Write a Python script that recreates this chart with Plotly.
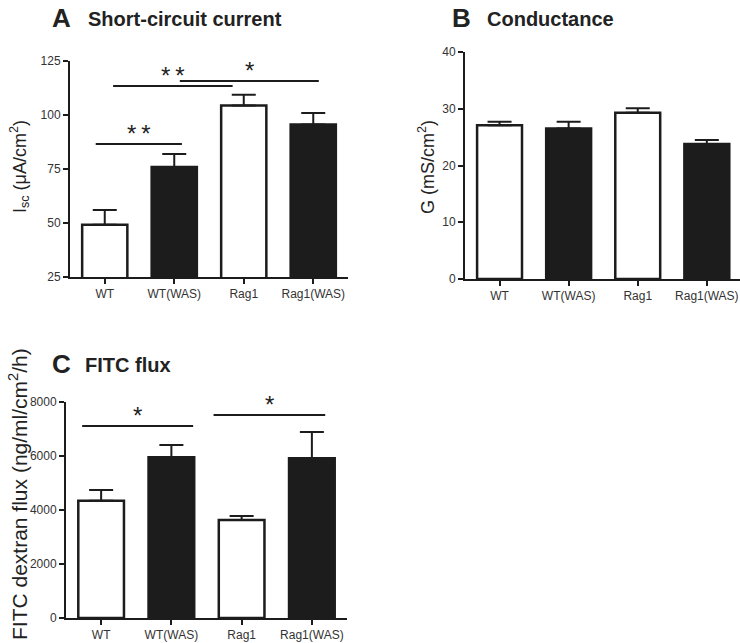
import plotly.graph_objects as go

# ---------------- data ----------------
categories = ["WT", "WT(WAS)", "Rag1", "Rag1(WAS)"]
bar_colors = ["white", "#1c1c1c", "white", "#1c1c1c"]

isc_mean = [49.2, 75.9, 104.4, 95.6]
isc_sem = [6.8, 6.1, 5.0, 5.3]

g_mean = [27.1, 26.5, 29.3, 23.8]
g_sem = [0.6, 1.2, 0.8, 0.7]

fitc_mean = [4340, 5950, 3630, 5920]
fitc_sem = [400, 460, 150, 970]

# significance brackets: (x start, x end, height, label)
sig_A = [(-0.13, 1.11, 86.6, "**"), (0.12, 1.84, 113.4, "**"), (1.08, 3.08, 115.7, "*")]
sig_C = [(-0.27, 1.31, 7111, "*"), (1.60, 3.19, 7518, "*")]

FONT = "Liberation Sans, Arial, sans-serif"
TXT = "#222222"

fig = go.Figure()

def add_bars(means, sems, xa, ya):
    fig.add_trace(go.Bar(
        x=list(range(len(categories))), y=means,
        xaxis=xa, yaxis=ya, width=0.65,
        marker=dict(color=bar_colors, line=dict(color="#1c1c1c", width=2.5)),
        error_y=dict(type="data", array=sems, arrayminus=[0] * len(sems),
                     symmetric=False, color="#1c1c1c", thickness=2, width=12),
        showlegend=False, hoverinfo="y",
    ))

add_bars(isc_mean, isc_sem, "x", "y")
add_bars(g_mean, g_sem, "x2", "y2")
add_bars(fitc_mean, fitc_sem, "x3", "y3")

axis_common = dict(showline=True, linecolor="#1c1c1c", linewidth=2, ticks="outside",
                   ticklen=5, tickwidth=2, tickcolor="#1c1c1c", showgrid=False,
                   zeroline=False, automargin=False,
                   tickfont=dict(family=FONT, size=12, color="#333333"))

def xax(domain, anchor, rng):
    return dict(domain=domain, anchor=anchor, range=rng, tickmode="array",
                tickvals=list(range(len(categories))), ticktext=categories, **axis_common)

def yax(domain, anchor, rng, dtick):
    return dict(domain=domain, anchor=anchor, range=rng, dtick=dtick, **axis_common)

fig.update_layout(
    width=740, height=643, autosize=False,
    margin=dict(l=0, r=0, t=0, b=0, pad=0),
    paper_bgcolor="white", plot_bgcolor="white",
    font=dict(family=FONT, color=TXT),
    xaxis=xax([70 / 740, 348 / 740], "y", [-0.5, 3.5]),
    yaxis=yax([1 - 277 / 643, 1 - 61 / 643], "x", [25, 125], 25),
    xaxis2=xax([465 / 740, 1.0], "y2", [-0.5, 3.48]),
    yaxis2=yax([1 - 279 / 643, 1 - 52 / 643], "x2", [0, 40], 10),
    xaxis3=xax([66 / 740, 347 / 740], "y3", [-0.5, 3.5]),
    yaxis3=yax([1 - 618 / 643, 1 - 402 / 643], "x3", [0, 8000], 2000),
)

shapes = []
annotations = []

def add_sig(sigs, xr, yr):
    for x0, x1, h, lab in sigs:
        shapes.append(dict(type="line", xref=xr, yref=yr, x0=x0, x1=x1, y0=h, y1=h,
                           line=dict(color="#1c1c1c", width=2)))
        annotations.append(dict(xref=xr, yref=yr, x=(x0 + x1) / 2, y=h,
                                text="\u2009".join(lab),
                                showarrow=False, yanchor="bottom", yshift=-5,
                                font=dict(family=FONT, size=24, color=TXT)))

add_sig(sig_A, "x", "y")
add_sig(sig_C, "x3", "y3")

def panel_title(letter, title, xl, xt, yc, size_l=26, size_t=20):
    annotations.append(dict(xref="paper", yref="paper", x=xl / 740, y=1 - yc / 643,
                            text="<b>" + letter + "</b>", showarrow=False,
                            xanchor="left", yanchor="middle",
                            font=dict(family=FONT, size=size_l, color=TXT)))
    annotations.append(dict(xref="paper", yref="paper", x=xt / 740, y=1 - (yc + 1) / 643,
                            text="<b>" + title + "</b>", showarrow=False,
                            xanchor="left", yanchor="middle",
                            font=dict(family=FONT, size=size_t, color=TXT)))

panel_title("A", "Short-circuit current", 50, 86, 18)
panel_title("B", "Conductance", 450, 485, 18)
panel_title("C", "FITC flux", 50, 83, 364)

def ytitle(text, xc, yc, size):
    annotations.append(dict(xref="paper", yref="paper", x=xc / 740, y=1 - yc / 643,
                            text=text, showarrow=False, textangle=-90,
                            xanchor="center", yanchor="middle",
                            font=dict(family=FONT, size=size, color=TXT)))

ytitle("I<sub>sc</sub> (μA/cm<sup>2</sup>)", 19, 167, 18)
ytitle("G (mS/cm<sup>2</sup>)", 426, 167, 18)
ytitle("FITC dextran flux (ng/ml/cm<sup>2</sup>/h)", 18, 494, 21)

fig.update_layout(shapes=shapes, annotations=annotations)

fig.write_html("out.html",
               config={"displayModeBar": False},
               post_script="document.body.style.margin='0';document.body.style.overflow='hidden';")
